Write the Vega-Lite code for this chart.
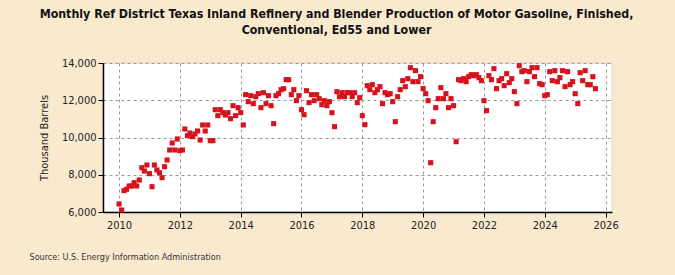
{
  "$schema": "https://vega.github.io/schema/vega-lite/v6.json",
  "width": 509,
  "height": 149,
  "autosize": "none",
  "padding": {"left": 103, "top": 63, "right": 63, "bottom": 63},
  "background": "#f9eacf",
  "title": {
    "text": ["Monthly Ref District Texas Inland Refinery and Blender Production of Motor Gasoline, Finished,", "Conventional, Ed55 and Lower"],
    "font": "Liberation Sans Narrow, DejaVu Sans Condensed, Arial Narrow, sans-serif",
    "fontSize": 12.3,
    "fontWeight": "bold",
    "color": "#111111",
    "anchor": "middle",
    "dx": -21,
    "offset": 21,
    "lineHeight": 16
  },
  "data": {
    "values": [
      {"date": "2010-01", "value": 6429}, {"date": "2010-02", "value": 6107}, {"date": "2010-03", "value": 7145}, {"date": "2010-04", "value": 7216},
      {"date": "2010-05", "value": 7395}, {"date": "2010-06", "value": 7395}, {"date": "2010-07", "value": 7574}, {"date": "2010-08", "value": 7395},
      {"date": "2010-09", "value": 7717}, {"date": "2010-10", "value": 8380}, {"date": "2010-11", "value": 8200}, {"date": "2010-12", "value": 8523},
      {"date": "2011-01", "value": 8058}, {"date": "2011-02", "value": 7360}, {"date": "2011-03", "value": 8523}, {"date": "2011-04", "value": 8255},
      {"date": "2011-05", "value": 8111}, {"date": "2011-06", "value": 7843}, {"date": "2011-07", "value": 8433}, {"date": "2011-08", "value": 8792},
      {"date": "2011-09", "value": 9329}, {"date": "2011-10", "value": 9704}, {"date": "2011-11", "value": 9329}, {"date": "2011-12", "value": 9919},
      {"date": "2012-01", "value": 9293}, {"date": "2012-02", "value": 9329}, {"date": "2012-03", "value": 10456}, {"date": "2012-04", "value": 10098},
      {"date": "2012-05", "value": 10241}, {"date": "2012-06", "value": 10044}, {"date": "2012-07", "value": 10188}, {"date": "2012-08", "value": 10349},
      {"date": "2012-09", "value": 9866}, {"date": "2012-10", "value": 10671}, {"date": "2012-11", "value": 10349}, {"date": "2012-12", "value": 10671},
      {"date": "2013-01", "value": 9830}, {"date": "2013-02", "value": 9830}, {"date": "2013-03", "value": 11494}, {"date": "2013-04", "value": 11172},
      {"date": "2013-05", "value": 11494}, {"date": "2013-06", "value": 11333}, {"date": "2013-07", "value": 11208}, {"date": "2013-08", "value": 11333},
      {"date": "2013-09", "value": 11011}, {"date": "2013-10", "value": 11709}, {"date": "2013-11", "value": 11172}, {"date": "2013-12", "value": 11602},
      {"date": "2014-01", "value": 11333}, {"date": "2014-02", "value": 10671}, {"date": "2014-03", "value": 12300}, {"date": "2014-04", "value": 11924},
      {"date": "2014-05", "value": 12246}, {"date": "2014-06", "value": 11817}, {"date": "2014-07", "value": 12192}, {"date": "2014-08", "value": 12354},
      {"date": "2014-09", "value": 11602}, {"date": "2014-10", "value": 12407}, {"date": "2014-11", "value": 11817}, {"date": "2014-12", "value": 12246},
      {"date": "2015-01", "value": 11709}, {"date": "2015-02", "value": 10743}, {"date": "2015-03", "value": 12246}, {"date": "2015-04", "value": 12354},
      {"date": "2015-05", "value": 12568}, {"date": "2015-06", "value": 12622}, {"date": "2015-07", "value": 13105}, {"date": "2015-08", "value": 13105},
      {"date": "2015-09", "value": 12300}, {"date": "2015-10", "value": 12568}, {"date": "2015-11", "value": 11978}, {"date": "2015-12", "value": 12246},
      {"date": "2016-01", "value": 11494}, {"date": "2016-02", "value": 11226}, {"date": "2016-03", "value": 12515}, {"date": "2016-04", "value": 11870},
      {"date": "2016-05", "value": 12300}, {"date": "2016-06", "value": 11978}, {"date": "2016-07", "value": 12300}, {"date": "2016-08", "value": 12085},
      {"date": "2016-09", "value": 11763}, {"date": "2016-10", "value": 11978}, {"date": "2016-11", "value": 11709}, {"date": "2016-12", "value": 11924},
      {"date": "2017-01", "value": 11333}, {"date": "2017-02", "value": 10582}, {"date": "2017-03", "value": 12461}, {"date": "2017-04", "value": 12192},
      {"date": "2017-05", "value": 12407}, {"date": "2017-06", "value": 12192}, {"date": "2017-07", "value": 12407}, {"date": "2017-08", "value": 12407},
      {"date": "2017-09", "value": 12192}, {"date": "2017-10", "value": 12407}, {"date": "2017-11", "value": 11870}, {"date": "2017-12", "value": 12139},
      {"date": "2018-01", "value": 11172}, {"date": "2018-02", "value": 10689}, {"date": "2018-03", "value": 12783}, {"date": "2018-04", "value": 12568},
      {"date": "2018-05", "value": 12837}, {"date": "2018-06", "value": 12407}, {"date": "2018-07", "value": 12568}, {"date": "2018-08", "value": 12729},
      {"date": "2018-09", "value": 11817}, {"date": "2018-10", "value": 12407}, {"date": "2018-11", "value": 12300}, {"date": "2018-12", "value": 12354},
      {"date": "2019-01", "value": 11924}, {"date": "2019-02", "value": 10850}, {"date": "2019-03", "value": 12192}, {"date": "2019-04", "value": 12568},
      {"date": "2019-05", "value": 13052}, {"date": "2019-06", "value": 12729}, {"date": "2019-07", "value": 13159}, {"date": "2019-08", "value": 13750},
      {"date": "2019-09", "value": 12998}, {"date": "2019-10", "value": 13589}, {"date": "2019-11", "value": 12998}, {"date": "2019-12", "value": 13267},
      {"date": "2020-01", "value": 12622}, {"date": "2020-02", "value": 12354}, {"date": "2020-03", "value": 11978}, {"date": "2020-04", "value": 8648},
      {"date": "2020-05", "value": 10850}, {"date": "2020-06", "value": 11602}, {"date": "2020-07", "value": 12085}, {"date": "2020-08", "value": 12676},
      {"date": "2020-09", "value": 12085}, {"date": "2020-10", "value": 12354}, {"date": "2020-11", "value": 11602}, {"date": "2020-12", "value": 12085},
      {"date": "2021-01", "value": 11709}, {"date": "2021-02", "value": 9776}, {"date": "2021-03", "value": 13105}, {"date": "2021-04", "value": 13052},
      {"date": "2021-05", "value": 13159}, {"date": "2021-06", "value": 12998}, {"date": "2021-07", "value": 13267}, {"date": "2021-08", "value": 13374},
      {"date": "2021-09", "value": 13320}, {"date": "2021-10", "value": 13374}, {"date": "2021-11", "value": 13213}, {"date": "2021-12", "value": 13052},
      {"date": "2022-01", "value": 11978}, {"date": "2022-02", "value": 11441}, {"date": "2022-03", "value": 13320}, {"date": "2022-04", "value": 13105},
      {"date": "2022-05", "value": 13696}, {"date": "2022-06", "value": 12622}, {"date": "2022-07", "value": 13052}, {"date": "2022-08", "value": 13159},
      {"date": "2022-09", "value": 12783}, {"date": "2022-10", "value": 13428}, {"date": "2022-11", "value": 12944}, {"date": "2022-12", "value": 13159},
      {"date": "2023-01", "value": 12461}, {"date": "2023-02", "value": 11817}, {"date": "2023-03", "value": 13857}, {"date": "2023-04", "value": 13535},
      {"date": "2023-05", "value": 13589}, {"date": "2023-06", "value": 12998}, {"date": "2023-07", "value": 13535}, {"date": "2023-08", "value": 13750},
      {"date": "2023-09", "value": 13267}, {"date": "2023-10", "value": 13750}, {"date": "2023-11", "value": 12891}, {"date": "2023-12", "value": 12837},
      {"date": "2024-01", "value": 12246}, {"date": "2024-02", "value": 12300}, {"date": "2024-03", "value": 13535}, {"date": "2024-04", "value": 13052},
      {"date": "2024-05", "value": 13589}, {"date": "2024-06", "value": 12998}, {"date": "2024-07", "value": 13213}, {"date": "2024-08", "value": 13589},
      {"date": "2024-09", "value": 12729}, {"date": "2024-10", "value": 13535}, {"date": "2024-11", "value": 12837}, {"date": "2024-12", "value": 12998},
      {"date": "2025-01", "value": 12354}, {"date": "2025-02", "value": 11817}, {"date": "2025-03", "value": 13481}, {"date": "2025-04", "value": 13052},
      {"date": "2025-05", "value": 13589}, {"date": "2025-06", "value": 12837}, {"date": "2025-07", "value": 12837}, {"date": "2025-08", "value": 13267},
      {"date": "2025-09", "value": 12622}
    ]
  },
  "mark": {"type": "point", "shape": "square", "filled": true, "size": 26, "opacity": 1, "color": "#d7121d"},
  "encoding": {
    "x": {
      "field": "date",
      "type": "temporal",
      "scale": {
        "type": "utc",
        "domain": [
          {"year": 2009, "month": 6, "date": 22, "utc": true},
          {"year": 2026, "month": 3, "date": 19, "utc": true}
        ]
      },
      "axis": {
        "format": "%Y",
        "tickCount": {"interval": "year", "step": 2},
        "title": "Source: U.S. Energy Information Administration",
        "titleAnchor": "start",
        "titleAlign": "left",
        "titleX": -74,
        "titleY": 40,
        "titleFont": "Liberation Sans Narrow, DejaVu Sans Condensed, Arial Narrow, sans-serif",
        "titleFontSize": 9,
        "titleFontWeight": "normal",
        "titleColor": "#333333"
      }
    },
    "y": {
      "field": "value",
      "type": "quantitative",
      "scale": {"domain": [6000, 14000], "nice": false, "zero": false},
      "axis": {
        "values": [6000, 8000, 10000, 12000, 14000],
        "format": ",d",
        "title": "Thousand Barrels",
        "titleFont": "Liberation Sans Narrow, DejaVu Sans Condensed, Arial Narrow, sans-serif",
        "titleFontSize": 11,
        "titleFontWeight": "normal",
        "titlePadding": 12,
        "titleColor": "#222222"
      }
    }
  },
  "config": {
    "view": {"fill": "white", "stroke": "#bbbbbb", "strokeWidth": 0.5},
    "axis": {
      "labelFont": "Liberation Sans Narrow, DejaVu Sans Condensed, Arial Narrow, sans-serif",
      "labelFontSize": 11,
      "labelColor": "#222222",
      "domainColor": "#000000",
      "domainWidth": 1.5,
      "tickColor": "#000000",
      "tickSize": 5,
      "gridColor": "#999999",
      "gridDash": [3, 3],
      "gridWidth": 1,
      "grid": true
    }
  }
}
